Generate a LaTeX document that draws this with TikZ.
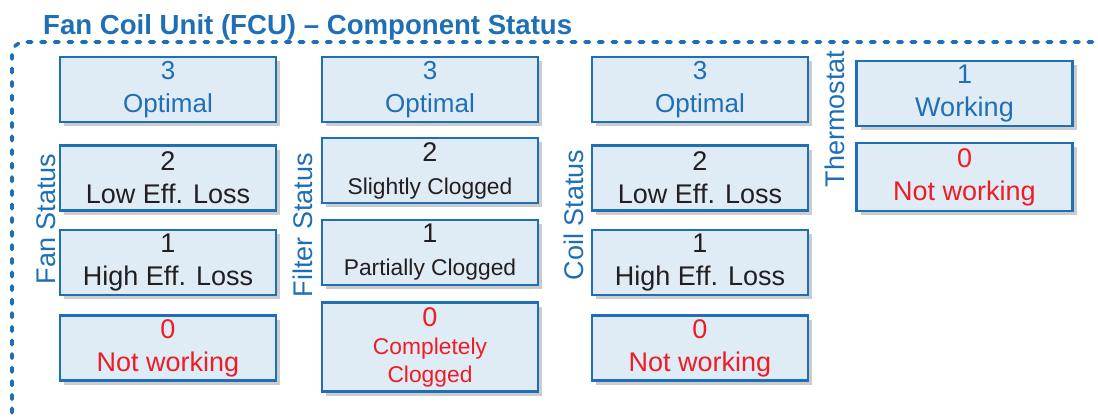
\documentclass[tikz,border=0pt]{standalone}
\usepackage{fontspec}
\setmainfont{Liberation Sans}
\usepackage{xcolor}
\usetikzlibrary{shadows}

\definecolor{fcublue}{HTML}{1F6FB7}
\definecolor{fcufill}{HTML}{DFEBF5}
\definecolor{fcured}{HTML}{EE1C25}
\definecolor{fcuink}{HTML}{231F20}

\newcommand{\fbig}{\fontsize{27}{33}\selectfont}
\newcommand{\fsml}{\fontsize{22.8}{28}\selectfont}

\begin{document}
\begin{tikzpicture}[
  x=1pt, y=-1pt,
  state/.style={
    draw=fcublue, line width=2.8pt, fill=fcufill, rectangle,
    minimum width=216pt, minimum height=65pt,
    font=\fbig, align=center, inner sep=0pt,
    drop shadow={shadow xshift=4pt, shadow yshift=-4pt, fill=black, opacity=0.2}
  },
  good/.style={state, text=fcublue},
  fair/.style={state, text=fcuink},
  bad/.style={state, text=fcured},
  group/.style={rotate=90, text=fcublue, font=\fbig, inner sep=0pt},
]
\useasboundingbox (0,0) rectangle (1098,420);
\clip (0,0) rectangle (1098,420);

\node[anchor=base west, inner sep=0pt, text=fcublue,
      font=\fontsize{27.6}{30}\selectfont\bfseries] (title) at (43,35)
  {Fan Coil Unit (FCU) -- Component Status};
\draw[fcublue, line width=3.6pt, dash pattern=on 4.6pt off 9pt,
      line cap=round, rounded corners=12pt] (12,440) |- (1115,42);

% fan
\node[group] (fanlbl) at (46,219) {Fan Status};
\node[good, font=\fontsize{26}{33}\selectfont] (fan3) at (168,89.5) {3\\Optimal};
\node[fair] (fan2) at (168,178)  {2\\Low Eff. Loss};
\node[fair] (fan1) at (168,262.5) {1\\High Eff. Loss};
\node[bad]  (fan0) at (168,348)  {0\\Not working};

% filter
\node[group] (fltlbl) at (303,225) {Filter Status};
\node[good, font=\fontsize{26}{33}\selectfont] (flt3) at (430,89.5)  {3\\Optimal};
\node[fair] (flt2) at (430,170.5) {2\\{\fsml Slightly Clogged}};
\node[fair] (flt1) at (430,252.5) {1\\{\fsml Partially Clogged}};
\node[bad, minimum height=89pt] (flt0) at (430,347)
  {0\\[-5pt]{\fsml Completely}\\[-5pt]{\fsml Clogged}};

% coil
\node[group] (coillbl) at (574,215) {Coil Status};
\node[good, font=\fontsize{26}{33}\selectfont] (coil3) at (700,89.5) {3\\Optimal};
\node[fair] (coil2) at (700,178)  {2\\Low Eff. Loss};
\node[fair] (coil1) at (700,262.5) {1\\High Eff. Loss};
\node[bad]  (coil0) at (700,348)  {0\\Not working};

% thermostat
\node[group] (thlbl) at (835,119) {Thermostat};
\node[good] (th1) at (964.5,93.5) {1\\Working};
\node[bad, minimum height=68pt] (th0) at (964.5,177) {0\\Not working};
\end{tikzpicture}
\end{document}
